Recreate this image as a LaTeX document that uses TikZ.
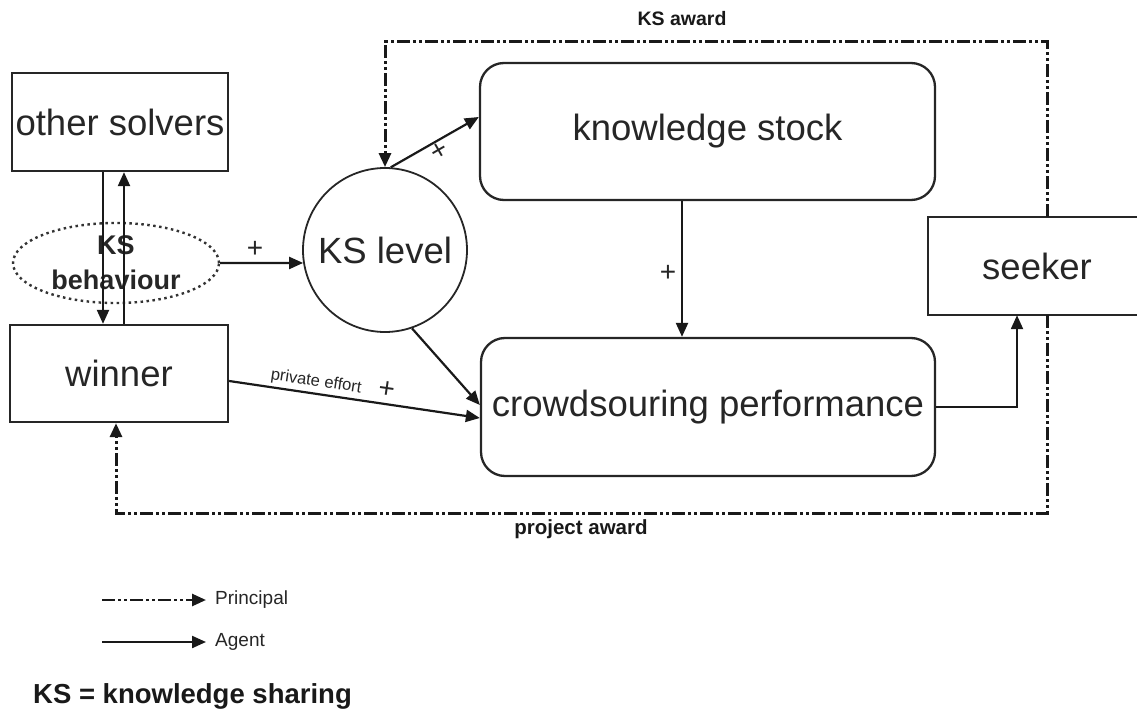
\documentclass[tikz,border=0pt]{standalone}
\usepackage{fontspec}
\setmainfont{Liberation Sans}
\usetikzlibrary{arrows.meta,shapes.geometric}
\begin{document}
\begin{tikzpicture}[x=1pt,y=-1pt,
  ink/.style={draw=black!85, line width=2.3pt},
  bigtext/.style={text=black!85, font=\fontsize{36.5}{40}\selectfont},
  box/.style={ink, rectangle, inner sep=0pt, bigtext},
  rbox/.style={box, rounded corners=24pt},
  circ/.style={ink, line width=1.8pt, circle, minimum size=164pt, inner sep=0pt, bigtext},
  ell/.style={draw=black!80, line width=2.4pt, dash pattern=on 2.5pt off 3.5pt, ellipse, minimum width=206pt, minimum height=80pt, inner sep=0pt, align=center, font=\bfseries\fontsize{27}{35}\selectfont, text=black!85},
  ag/.style={draw=black!90, line width=2.2pt, -{Triangle[length=14pt,width=12pt]}},
  pa/.style={draw=black!90, line width=3pt, dash pattern=on 13pt off 3pt on 3pt off 3pt on 3pt off 3pt, -{Triangle[length=14pt,width=12pt]}},
  plus/.style={font=\fontsize{28}{28}\selectfont, text=black!85, inner sep=0pt},
  small/.style={font=\bfseries\fontsize{19.5}{22}\selectfont, text=black!90, inner sep=0pt},
  legtext/.style={font=\fontsize{19}{22}\selectfont, text=black!85, inner sep=0pt, anchor=west},
]
\useasboundingbox (0,0) rectangle (1137,711);

% nodes
\node[box, minimum width=216pt, minimum height=98pt] (os) at (120,122) {other solvers};
\node[box, minimum width=218pt, minimum height=97pt] (winner) at (119,373.5) {winner};
\node[ell] (ksb) at (116,263) {KS\\behaviour};
\node[circ] (lvl) at (385,250) {KS level};
\node[rbox, minimum width=455pt, minimum height=137pt] (stock) at (707.5,131.5) {knowledge stock};
\node[rbox, minimum width=454pt, minimum height=138pt] (perf) at (708,407) {crowdsouring performance};
\node[bigtext, minimum height=98pt, inner sep=0pt] (seeker) at (1037,266) {seeker};
\draw[ink] (1137,217) -- (928,217) -- (928,315) -- (1137,315);

% helper coordinates
\coordinate (xd) at (103,0);
\coordinate (xu) at (124,0);
\coordinate (xk) at (682,0);
\coordinate (xs) at (1017,0);
\coordinate (tr) at (1047,42);
\coordinate (br) at (1047,513);
\coordinate (bl) at (116,513);

% agent connectors
\draw[ag] (os.south -| xd) -- (winner.north -| xd);
\draw[ag] (winner.north -| xu) -- (os.south -| xu);
\draw[ag] (ksb.east) -- node[plus, pos=0.42, above=4pt] (p1) {+} (lvl.189);
\draw[ag] (lvl.86) -- node[plus, pos=0.5, below=1pt, rotate=30] (p2) {+} ([yshift=14.5pt]stock.west);
\draw[ag] (stock.south -| xk) -- (perf.north -| xk);
\node[plus] (p3) at (668,273) {+};
\draw[ag] (lvl.-71) -- ([yshift=2pt]perf.west);
\draw[ag] ([yshift=-7.5pt]winner.east) --
  node[pos=0.34, sloped, above=3pt, font=\fontsize{16.5}{18}\selectfont, text=black!85, inner sep=0pt] (pe) {private effort}
  node[pos=0.62, sloped, above=5pt, plus] (p4) {+}
  ([yshift=-11pt]perf.west);
\draw[ag] (perf.east) -| (seeker.south -| xs);

% principal connectors
\draw[pa] (seeker.north -| tr) -- (tr) -| (lvl.north);
\draw[pa] (seeker.south -| br) -- (br) -- (bl) -- (winner.south -| bl);
\node[small] (ksaward) at (682,19) {KS award};
\node[small, font=\bfseries\fontsize{20.5}{22}\selectfont] (paward) at (581,529) {project award};

% legend
\node[legtext] (lp) at (215,600) {Principal};
\node[legtext] (la) at (215,642) {Agent};
\coordinate (lps) at (102,600);
\coordinate (las) at (102,642);
\draw[pa, line width=2.6pt] (lps) -- ([xshift=-9pt]lp.west);
\draw[ag] (las) -- ([xshift=-9pt]la.west);
\node[anchor=west, inner sep=0pt, font=\bfseries\fontsize{27.5}{30}\selectfont, text=black!90] (def) at (33,696) {KS = knowledge sharing};
\end{tikzpicture}
\end{document}
